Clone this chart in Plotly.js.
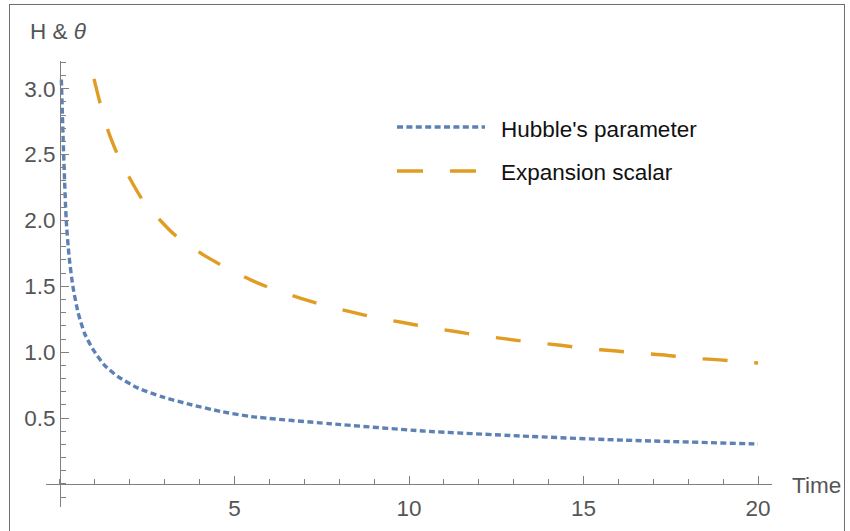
<!DOCTYPE html>
<html>
<head>
<meta charset="utf-8">
<script src="https://cdn.plot.ly/plotly-3.0.1.min.js"></script>
<style>
  html, body { margin: 0; padding: 0; background: #fff; }
  #wrap { position: relative; width: 850px; height: 531px; overflow: hidden; }
  #chart { width: 850px; height: 531px; }
  #frame { position: absolute; left: 9px; top: 4px; width: 836px; height: 600px;
           border: 1.5px solid #6e6e6e; pointer-events: none; box-sizing: border-box; }
</style>
</head>
<body>
<div id="wrap">
  <div id="chart"></div>
  <div id="frame"></div>
</div>
<script>
// ---- data ----
const timeH = [0.04, 0.106, 0.18, 0.26, 0.37, 0.52, 0.71, 0.95, 1.28, 1.66, 2.24, 2.91, 3.67, 4.63, 5.49, 7.74, 10.4, 13.19, 15.97, 19.89, 20];
const hubble = [3.07, 2.50, 2.00, 1.73, 1.50, 1.30, 1.14, 1.02, 0.90, 0.815, 0.727, 0.663, 0.607, 0.549, 0.511, 0.457, 0.402, 0.364, 0.334, 0.304, 0.303];

const timeTheta = [0.975, 1.16, 1.38, 1.65, 2.0, 2.38, 2.91, 3.29, 4.10, 4.73, 5.44, 6.11, 6.88, 7.60, 8.31, 9.08, 9.83, 10.57, 11.33, 12.07, 12.83, 13.59, 14.34, 15.10, 15.87, 16.61, 17.38, 18.13, 18.90, 19.66, 20];
const theta = [3.075, 2.88, 2.68, 2.50, 2.32, 2.15, 1.99, 1.89, 1.74, 1.645, 1.552, 1.478, 1.41, 1.354, 1.308, 1.26, 1.225, 1.188, 1.157, 1.126, 1.099, 1.073, 1.053, 1.027, 1.011, 0.992, 0.977, 0.954, 0.942, 0.924, 0.918];

const seriesNames = ["Hubble's parameter", "Expansion scalar"];
const xTickVals = [5, 10, 15, 20];
const xTickText = ["5", "10", "15", "20"];
const yTickVals = [0.5, 1.0, 1.5, 2.0, 2.5, 3.0];
const yTickText = ["0.5", "1.0", "1.5", "2.0", "2.5", "3.0"];

// ---- styling ----
const blue = '#5E81B5';
const orange = '#E19C24';
const axisGray = '#808080';
const textGray = '#555555';
const FONT = '"Liberation Sans", Arial, sans-serif';
const FS = 22.5;

const M = {l: 46, r: 78, t: 61, b: 24};
const W = 850, H = 531;
const xRange = [-0.4, 20.4];
const yRange = [-0.175, 3.21];
const pw = W - M.l - M.r, ph = H - M.t - M.b;
const px2paperX = p => (p - M.l) / pw;
const px2paperY = p => (H - M.b - p) / ph;

const traces = [
  {x: timeH, y: hubble, mode: 'lines', name: seriesNames[0], showlegend: false,
   line: {color: blue, width: 3.4, dash: '6px,3.4px', shape: 'spline', smoothing: 0.6}, cliponaxis: true},
  {x: timeTheta, y: theta, mode: 'lines', name: seriesNames[1], showlegend: false,
   line: {color: orange, width: 3.4, dash: '25px,27px', shape: 'spline', smoothing: 0.6}, cliponaxis: true}
];

const layout = {
  width: W, height: H,
  margin: M,
  paper_bgcolor: '#fff', plot_bgcolor: '#fff',
  font: {family: FONT, size: FS, color: textGray},
  showlegend: false,
  xaxis: {
    range: xRange, anchor: 'free', position: (0 - yRange[0]) / (yRange[1] - yRange[0]),
    showgrid: false, zeroline: false, showline: true, linecolor: axisGray, linewidth: 1,
    tickmode: 'array', tickvals: xTickVals, ticktext: xTickText,
    ticks: 'inside', ticklen: 8, tickcolor: axisGray, tickwidth: 1, ticklabelstandoff: 4,
    tickfont: {family: FONT, size: FS, color: textGray},
    minor: {tickmode: 'linear', tick0: 0, dtick: 1, ticks: 'inside', ticklen: 5, tickcolor: axisGray, tickwidth: 1, showgrid: false}
  },
  yaxis: {
    range: yRange, anchor: 'free', position: (0 - xRange[0]) / (xRange[1] - xRange[0]),
    showgrid: false, zeroline: false, showline: true, linecolor: axisGray, linewidth: 1,
    tickmode: 'array', tickvals: yTickVals, ticktext: yTickText,
    ticks: 'inside', ticklen: 8, tickcolor: axisGray, tickwidth: 1,
    tickfont: {family: FONT, size: FS, color: textGray},
    minor: {tickmode: 'linear', tick0: 0, dtick: 0.1, ticks: 'inside', ticklen: 5, tickcolor: axisGray, tickwidth: 1, showgrid: false}
  },
  shapes: [
    {type: 'line', xref: 'paper', yref: 'paper', x0: px2paperX(397), x1: px2paperX(485), y0: px2paperY(127), y1: px2paperY(127),
     line: {color: blue, width: 3.4, dash: '6px,3.4px'}},
    {type: 'line', xref: 'paper', yref: 'paper', x0: px2paperX(397), x1: px2paperX(476), y0: px2paperY(171), y1: px2paperY(171),
     line: {color: orange, width: 3.4, dash: '26px,27px'}}
  ],
  annotations: [
    {text: seriesNames[0], xref: 'paper', yref: 'paper', x: px2paperX(499), y: px2paperY(129), xanchor: 'left', yanchor: 'middle',
     showarrow: false, font: {family: FONT, size: FS, color: '#111'}},
    {text: seriesNames[1], xref: 'paper', yref: 'paper', x: px2paperX(499), y: px2paperY(173), xanchor: 'left', yanchor: 'middle',
     showarrow: false, font: {family: FONT, size: FS, color: '#111'}},
    {text: 'H & <i>θ</i>', xref: 'paper', yref: 'paper', x: px2paperX(28), y: px2paperY(31), xanchor: 'left', yanchor: 'middle',
     showarrow: false, font: {family: FONT, size: FS, color: textGray}},
    {text: 'Time', xref: 'paper', yref: 'paper', x: px2paperX(790), y: px2paperY(485), xanchor: 'left', yanchor: 'middle',
     showarrow: false, font: {family: FONT, size: FS, color: textGray}}
  ]
};

Plotly.newPlot('chart', traces, layout, {displayModeBar: false, staticPlot: true});
</script>
</body>
</html>
